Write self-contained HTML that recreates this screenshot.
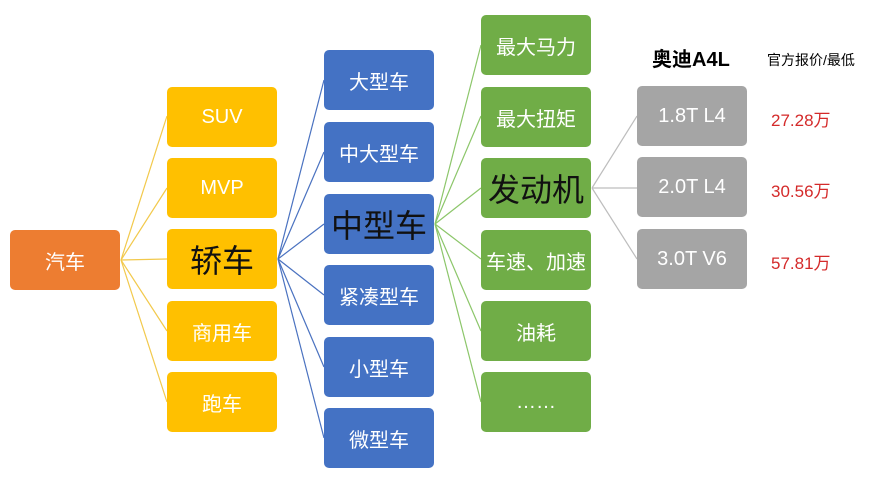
<!DOCTYPE html>
<html><head><meta charset="utf-8"><style>
body{margin:0;width:874px;height:484px;background:#fff;position:relative;overflow:hidden;font-family:"Liberation Sans","Noto Sans CJK SC",sans-serif}
.b{position:absolute;width:110px;height:60px;border-radius:5px;color:#fff;display:flex;align-items:center;justify-content:center;font-size:20px}
.o{background:#ED7D31}.y{background:#FFC000}.u{background:#4472C4}.g{background:#70AD47}.r{background:#A5A5A5}
.big{font-size:32px;color:#111}
.t{position:absolute;font-size:20px;}
.p{position:absolute;color:#D42A2A;font-size:17px;left:771px}
</style></head><body>
<svg width="874" height="484" style="position:absolute;left:0;top:0">
<g stroke="#F2C94C" stroke-width="1.2">
<line x1="121" y1="260" x2="167" y2="116"/><line x1="121" y1="260" x2="167" y2="188"/><line x1="121" y1="260" x2="167" y2="259"/><line x1="121" y1="260" x2="167" y2="331"/><line x1="121" y1="260" x2="167" y2="402"/>
</g>
<g stroke="#4A72C0" stroke-width="1.2">
<line x1="278" y1="259" x2="324" y2="80"/><line x1="278" y1="259" x2="324" y2="152"/><line x1="278" y1="259" x2="324" y2="224"/><line x1="278" y1="259" x2="324" y2="295"/><line x1="278" y1="259" x2="324" y2="367"/><line x1="278" y1="259" x2="324" y2="438"/>
</g>
<g stroke="#8CC66A" stroke-width="1.2">
<line x1="435" y1="224" x2="481" y2="45"/><line x1="435" y1="224" x2="481" y2="116"/><line x1="435" y1="224" x2="481" y2="188"/><line x1="435" y1="224" x2="481" y2="259"/><line x1="435" y1="224" x2="481" y2="331"/><line x1="435" y1="224" x2="481" y2="402"/>
</g>
<g stroke="#BDBDBD" stroke-width="1.2">
<line x1="592" y1="188" x2="637" y2="116"/><line x1="592" y1="188" x2="637" y2="188"/><line x1="592" y1="188" x2="637" y2="259"/>
</g>
</svg>
<div class="b o" style="left:10px;top:230px">汽车</div>
<div class="b y" style="left:167px;top:87px">SUV</div>
<div class="b y" style="left:167px;top:158px">MVP</div>
<div class="b y big" style="left:167px;top:229px">轿车</div>
<div class="b y" style="left:167px;top:301px">商用车</div>
<div class="b y" style="left:167px;top:372px">跑车</div>
<div class="b u" style="left:324px;top:50px">大型车</div>
<div class="b u" style="left:324px;top:122px">中大型车</div>
<div class="b u big" style="left:324px;top:194px">中型车</div>
<div class="b u" style="left:324px;top:265px">紧凑型车</div>
<div class="b u" style="left:324px;top:337px">小型车</div>
<div class="b u" style="left:324px;top:408px">微型车</div>
<div class="b g" style="left:481px;top:15px">最大马力</div>
<div class="b g" style="left:481px;top:87px">最大扭矩</div>
<div class="b g big" style="left:481px;top:158px">发动机</div>
<div class="b g" style="left:481px;top:230px">车速、加速</div>
<div class="b g" style="left:481px;top:301px">油耗</div>
<div class="b g" style="left:481px;top:372px">……</div>
<div class="b r" style="left:637px;top:86px">1.8T L4</div>
<div class="b r" style="left:637px;top:157px">2.0T L4</div>
<div class="b r" style="left:637px;top:229px">3.0T V6</div>
<div class="t" style="left:652px;top:43px;font-weight:bold;font-size:20px">奥迪A4L</div>
<div class="t" style="left:767px;top:50px;font-size:14px">官方报价/最低</div>
<div class="p" style="top:106px">27.28万</div>
<div class="p" style="top:177px">30.56万</div>
<div class="p" style="top:249px">57.81万</div>
</body></html>
